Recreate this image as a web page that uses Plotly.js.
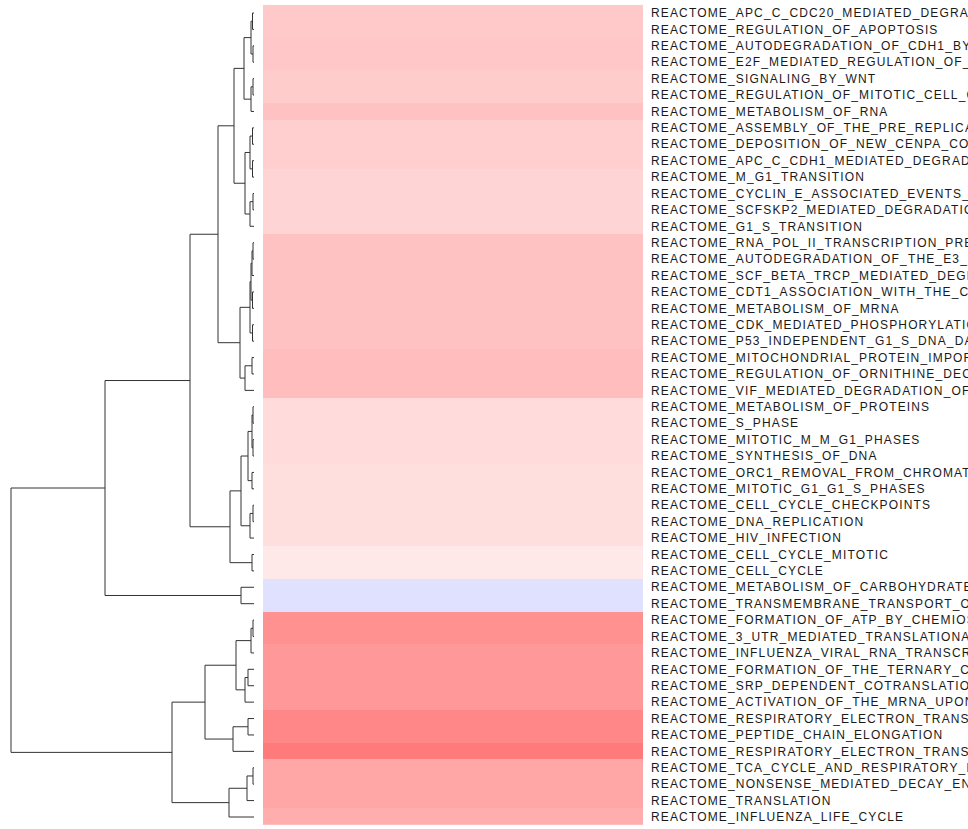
<!DOCTYPE html>
<html>
<head>
<meta charset="utf-8">
<script src="https://cdn.plot.ly/plotly-3.0.1.min.js"></script>
<style>
  html, body { margin: 0; padding: 0; background: #fff; }
  #chart { width: 968px; height: 829px; }
  .ytick text { letter-spacing: 1.15px; }
</style>
</head>
<body>
<div id="chart"></div>
<script>
// Row labels, top to bottom
const labels = [
  "REACTOME_APC_C_CDC20_MEDIATED_DEGRADATION_OF_MITOTIC_PROTEINS",
  "REACTOME_REGULATION_OF_APOPTOSIS",
  "REACTOME_AUTODEGRADATION_OF_CDH1_BY_CDH1_APC_C",
  "REACTOME_E2F_MEDIATED_REGULATION_OF_DNA_REPLICATION",
  "REACTOME_SIGNALING_BY_WNT",
  "REACTOME_REGULATION_OF_MITOTIC_CELL_CYCLE",
  "REACTOME_METABOLISM_OF_RNA",
  "REACTOME_ASSEMBLY_OF_THE_PRE_REPLICATIVE_COMPLEX",
  "REACTOME_DEPOSITION_OF_NEW_CENPA_CONTAINING_NUCLEOSOMES",
  "REACTOME_APC_C_CDH1_MEDIATED_DEGRADATION_OF_CDC20",
  "REACTOME_M_G1_TRANSITION",
  "REACTOME_CYCLIN_E_ASSOCIATED_EVENTS_DURING_G1_S_TRANSITION",
  "REACTOME_SCFSKP2_MEDIATED_DEGRADATION_OF_P27_P21",
  "REACTOME_G1_S_TRANSITION",
  "REACTOME_RNA_POL_II_TRANSCRIPTION_PRE_INITIATION",
  "REACTOME_AUTODEGRADATION_OF_THE_E3_UBIQUITIN_LIGASE_COP1",
  "REACTOME_SCF_BETA_TRCP_MEDIATED_DEGRADATION_OF_EMI1",
  "REACTOME_CDT1_ASSOCIATION_WITH_THE_CDC6_ORC_ORIGIN_COMPLEX",
  "REACTOME_METABOLISM_OF_MRNA",
  "REACTOME_CDK_MEDIATED_PHOSPHORYLATION_AND_REMOVAL_OF_CDC6",
  "REACTOME_P53_INDEPENDENT_G1_S_DNA_DAMAGE_CHECKPOINT",
  "REACTOME_MITOCHONDRIAL_PROTEIN_IMPORT",
  "REACTOME_REGULATION_OF_ORNITHINE_DECARBOXYLASE_ODC",
  "REACTOME_VIF_MEDIATED_DEGRADATION_OF_APOBEC3G",
  "REACTOME_METABOLISM_OF_PROTEINS",
  "REACTOME_S_PHASE",
  "REACTOME_MITOTIC_M_M_G1_PHASES",
  "REACTOME_SYNTHESIS_OF_DNA",
  "REACTOME_ORC1_REMOVAL_FROM_CHROMATIN",
  "REACTOME_MITOTIC_G1_G1_S_PHASES",
  "REACTOME_CELL_CYCLE_CHECKPOINTS",
  "REACTOME_DNA_REPLICATION",
  "REACTOME_HIV_INFECTION",
  "REACTOME_CELL_CYCLE_MITOTIC",
  "REACTOME_CELL_CYCLE",
  "REACTOME_METABOLISM_OF_CARBOHYDRATES",
  "REACTOME_TRANSMEMBRANE_TRANSPORT_OF_SMALL_MOLECULES",
  "REACTOME_FORMATION_OF_ATP_BY_CHEMIOSMOTIC_COUPLING",
  "REACTOME_3_UTR_MEDIATED_TRANSLATIONAL_REGULATION",
  "REACTOME_INFLUENZA_VIRAL_RNA_TRANSCRIPTION_AND_REPLICATION",
  "REACTOME_FORMATION_OF_THE_TERNARY_COMPLEX_AND_SUBSEQUENTLY_THE_43S_COMPLEX",
  "REACTOME_SRP_DEPENDENT_COTRANSLATIONAL_PROTEIN_TARGETING_TO_MEMBRANE",
  "REACTOME_ACTIVATION_OF_THE_MRNA_UPON_BINDING_OF_THE_CAP_BINDING_COMPLEX",
  "REACTOME_RESPIRATORY_ELECTRON_TRANSPORT",
  "REACTOME_PEPTIDE_CHAIN_ELONGATION",
  "REACTOME_RESPIRATORY_ELECTRON_TRANSPORT_ATP_SYNTHESIS",
  "REACTOME_TCA_CYCLE_AND_RESPIRATORY_ELECTRON_TRANSPORT",
  "REACTOME_NONSENSE_MEDIATED_DECAY_ENHANCED_BY_THE_EXON_JUNCTION_COMPLEX",
  "REACTOME_TRANSLATION",
  "REACTOME_INFLUENZA_LIFE_CYCLE"
];

// Heatmap values (one column)
const values = [
  0.21, 0.21, 0.22, 0.22, 0.20, 0.20, 0.24, 0.19, 0.19, 0.19,
  0.17, 0.17, 0.17, 0.17, 0.24, 0.24, 0.24, 0.24, 0.24, 0.24,
  0.24, 0.26, 0.26, 0.26, 0.14, 0.14, 0.14, 0.14, 0.13, 0.13,
  0.13, 0.13, 0.13, 0.09, 0.09, -0.12, -0.12, 0.43, 0.43, 0.40,
  0.40, 0.40, 0.40, 0.47, 0.47, 0.52, 0.35, 0.35, 0.35, 0.32
];

// Dendrogram: [height, left, right]; leaves are row indices
const tree =
  [243,
    [149,
      [64,
        [36,
          [20,
            [10, [3, [1.5, 0, 1], [1, 2, 3]], [3, [1, 4, 5], 6]],
            [9, [4, [1.5, 7, 8], [1.5, 9, 10]], [4, [1, 11, 12], 13]]],
          [14,
            [4, [3, [2, [1, 14, 15], 16], [1.5, 17, 18]], [1.5, 19, 20]],
            [9, [2, 21, 22], 23]]],
        [24,
          [13,
            [6, [2, [1, 24, 25], [1, 26, 27]], [2, 28, 29]],
            [4, [1, 30, 31], 32]],
          [2, 33, 34]]],
      [13, 35, 36]],
    [82,
      [49,
        [18, [3, [1, 37, 38], 39], [9, [6, 40, 41], 42]],
        [21, [6, 43, 44], 45]],
      [25, [7, [1, 46, 47], 48], 49]]];

// Build dendrogram segments from the tree
const dx = [], dy = [];
function walk(node) {
  if (typeof node === "number") return { y: node, h: 0 };
  const h = node[0];
  const a = walk(node[1]), b = walk(node[2]);
  dx.push(a.h, h, h, b.h, null);
  dy.push(a.y, a.y, b.y, b.y, null);
  return { y: (a.y + b.y) / 2, h: h };
}
walk(tree);

const idx = labels.map((_, i) => i);

const traces = [
  {
    type: "scatter", mode: "lines",
    x: dx, y: dy, xaxis: "x", yaxis: "y",
    line: { color: "#333333", width: 1 },
    hoverinfo: "skip", showlegend: false
  },
  {
    type: "heatmap",
    x: [0], y: idx, z: values.map(v => [v]),
    xaxis: "x2", yaxis: "y",
    zmin: -1, zmax: 1,
    colorscale: [[0, "rgb(0,0,255)"], [0.5, "rgb(255,255,255)"], [1, "rgb(255,0,0)"]],
    showscale: false
  }
];

const H = 829, W = 968;
const layout = {
  width: W, height: H,
  margin: { l: 0, r: 0, t: 0, b: 0 },
  paper_bgcolor: "#ffffff", plot_bgcolor: "rgba(0,0,0,0)",
  showlegend: false,
  xaxis: {
    domain: [0, 260 / W], range: [254, -6],
    showgrid: false, zeroline: false, showline: false,
    showticklabels: false, ticks: ""
  },
  xaxis2: {
    domain: [263 / W, 643 / W], range: [-0.5, 0.5],
    showgrid: false, zeroline: false, showline: false,
    showticklabels: false, ticks: ""
  },
  yaxis: {
    domain: [(H - 825.2) / H, (H - 4.8) / H],
    range: [49.5, -0.5],
    anchor: "x2", side: "right",
    tickmode: "array", tickvals: idx, ticktext: labels,
    ticks: "", ticklabelstandoff: 7,
    showgrid: false, zeroline: false, showline: false,
    tickfont: { family: "Liberation Sans, Arial, sans-serif", size: 12, color: "#1a1a1a" }
  }
};

Plotly.newPlot("chart", traces, layout, { displayModeBar: false, staticPlot: true });
</script>
</body>
</html>
